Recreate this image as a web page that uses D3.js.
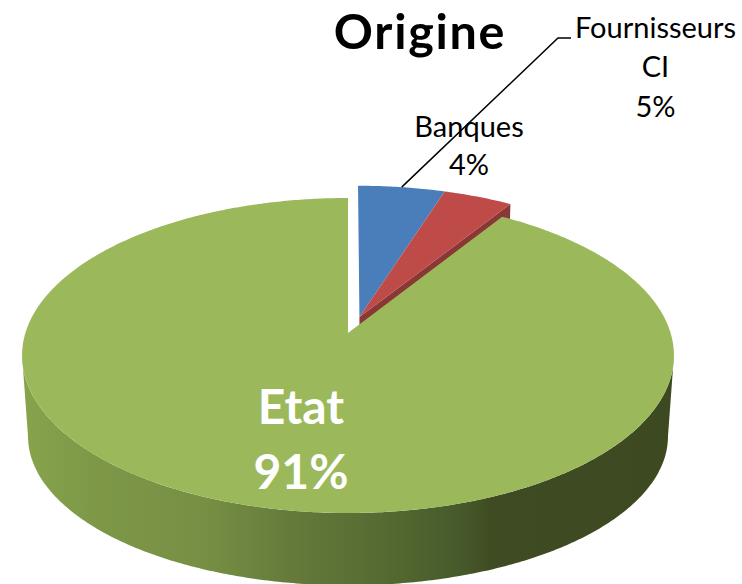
<!DOCTYPE html>
<html>
<head>
<meta charset="utf-8">
<script src="https://d3js.org/d3.v7.min.js"></script>
<style>
    html, body { margin: 0; padding: 0; background: #fff; }
    svg { display: block; }
    text { font-family: Lato, "Open Sans", sans-serif; }
</style>
</head>
<body>
<div id="pie_graph"></div>
<script>
// Data
var categories = ["Fournisseurs CI", "Banques", "Etat"];
var percents = [5, 4, 91];
var percentLabels = ["5%", "4%", "91%"];
var sliceColours = ["#4a7ebb", "#be4b48", "#9bb95b"];
var sideColours = ["#3a5f8c", "#8a3836", "#3f4b22"];
var explodedSlices = [true, true, false];

var width = 742, height = 584;

// Perspective pie: unit disc -> screen. k is the foreshortening, z=0 top face, z=1 bottom face
var k = 1 / 7;
var xScale = d3.scaleLinear().domain([0, 1]).range([322.6, 316.7]);
var yScale = d3.scaleLinear().domain([0, 1]).range([154.3, 146]);
var apexY = d3.scaleLinear().domain([0, 1]).range([333, 415]);
var centerX = 348;
var explode = { u: 0.036, v: 0.105 };

function project(theta, radius, z, moved) {
    var u = radius * Math.sin(theta) + (moved ? explode.u : 0);
    var v = radius * Math.cos(theta) + (moved ? explode.v : 0);
    var s = 1 / (1 + k * v);
    return [centerX + xScale(z) * u * s, apexY(z) - yScale(z) * v * s];
}

var line = d3.line();

function rimAngles(a0, a1) {
    var steps = Math.max(2, Math.ceil((a1 - a0) / 0.01));
    return d3.range(steps + 1).map(function (i) { return a0 + (a1 - a0) * i / steps; });
}

function wedgePath(d, z, moved) {
    var pts = [project(0, 0, z, moved)];
    rimAngles(d.startAngle, d.endAngle).forEach(function (a) { pts.push(project(a, 1, z, moved)); });
    return line(pts) + "Z";
}

var pieLayout = d3.pie().sort(null).value(function (d) { return d; });
var slices = pieLayout(percents);

var svg = d3.select("#pie_graph").append("svg")
    .attr("width", width)
    .attr("height", height);

// Gradient of the front wall
var gradient = svg.append("defs").append("linearGradient")
    .attr("id", "wall")
    .attr("x1", "0").attr("x2", "1").attr("y1", "0").attr("y2", "0");
[[0, "#87a44c"], [0.12, "#7d9747"], [0.28, "#778f44"], [0.42, "#64793a"],
 [0.55, "#556b32"], [0.68, "#46582a"], [0.72, "#3f4b22"], [1, "#3d4921"]].forEach(function (s) {
    gradient.append("stop").attr("offset", s[0]).attr("stop-color", s[1]);
});

/**
 * Front wall of the big slice
 */
var wallFrom = Math.PI / 2 + Math.asin(k);
var wallTo = 3 * Math.PI / 2 - Math.asin(k);
var frontTop = rimAngles(wallFrom, wallTo).map(function (a) { return project(a, 1, 0, false); });
var frontBottom = rimAngles(wallFrom, wallTo).reverse().map(function (a) { return project(a, 1, 1, false); });
svg.append("path")
    .attr("d", line(frontTop.concat(frontBottom)) + "Z")
    .attr("fill", "url(#wall)");

/**
 * Cut face of the exploded red slice, the green top hides most of it
 */
var red = slices[1];
svg.append("path")
    .attr("d", line([
        project(0, 0, 0, true),
        project(red.endAngle, 1, 0, true),
        project(red.endAngle, 1, 1, true),
        project(0, 0, 1, true)
    ]) + "Z")
    .attr("fill", sideColours[1]);

/**
 * Top faces
 */
svg.selectAll("path.top")
    .data(slices)
    .enter()
    .append("path")
    .attr("class", "top")
    .attr("d", function (d, i) { return wedgePath(d, 0, explodedSlices[i]); })
    .attr("fill", function (d, i) { return sliceColours[i]; });

/**
 * Leader line of the blue slice
 */
var blueMid = (slices[0].startAngle + slices[0].endAngle) / 2;
var leaderStart = project(blueMid, 1, 0, true);
svg.append("path")
    .attr("d", line([leaderStart, [558, 38], [571, 38]]))
    .attr("fill", "none")
    .attr("stroke", "#000")
    .attr("stroke-width", 1.5);

/**
 * Texts
 */
function addText(str, x, y, size, weight, colour) {
    return svg.append("text")
        .attr("x", x)
        .attr("y", y)
        .attr("text-anchor", "middle")
        .style("font-size", size + "px")
        .style("font-weight", weight)
        .attr("fill", colour)
        .text(str);
}

addText("Origine", 420, 49, 48.5, "bold", "#000").style("letter-spacing", "1.7px");
addText("Fournisseurs", 655.5, 38, 29, "normal", "#000");
addText("CI", 655.5, 77, 29, "normal", "#000");
addText(percentLabels[0], 655.5, 117, 29, "normal", "#000");
addText(categories[1], 469, 137, 29, "normal", "#000");
addText(percentLabels[1], 469, 175, 29, "normal", "#000");
addText(categories[2], 301, 424, 48, "bold", "#fff");
addText(percentLabels[2], 301, 489, 48, "bold", "#fff");
</script>
</body>
</html>
